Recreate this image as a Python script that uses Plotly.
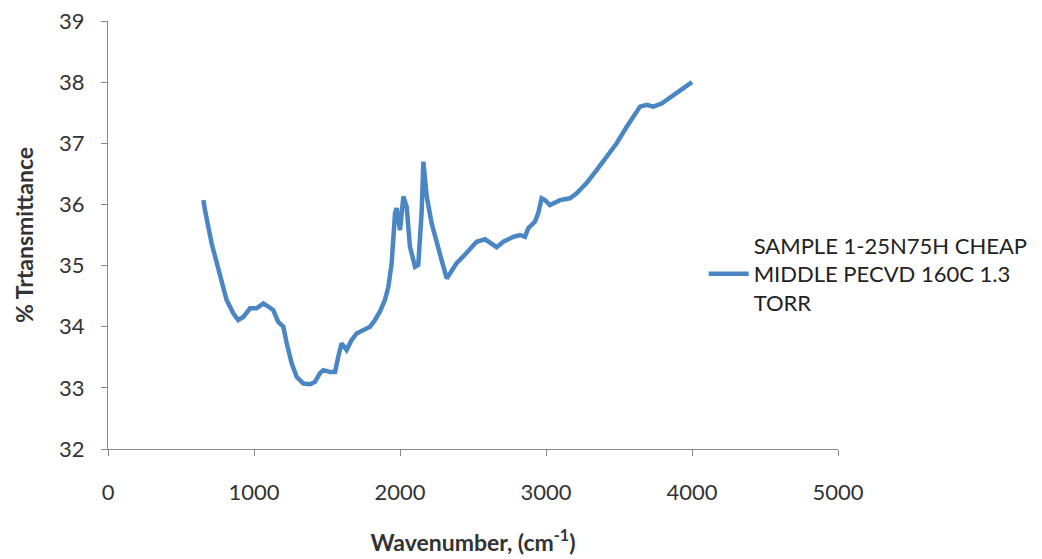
import plotly.graph_objects as go

wavenumber = [653, 664, 710, 744, 778, 812, 858, 892, 927, 973, 1018, 1064, 1098, 1132, 1166, 1201,
              1224, 1258, 1292, 1338, 1384, 1418, 1452, 1475, 1521, 1555, 1577, 1600, 1634, 1668,
              1703, 1748, 1795, 1829, 1863, 1897, 1920, 1943, 1966, 1977, 2000, 2023, 2046, 2068,
              2103, 2125, 2148, 2160, 2183, 2217, 2251, 2285, 2320, 2342, 2388, 2433, 2479, 2525,
              2582, 2628, 2662, 2708, 2776, 2822, 2856, 2879, 2925, 2947, 2970, 2993, 3027, 3096,
              3164, 3210, 3278, 3347, 3415, 3484, 3553, 3598, 3644, 3690, 3735, 3792, 3861, 3918, 4000]
transmittance = [36.07, 35.91, 35.36, 35.04, 34.71, 34.44, 34.22, 34.11, 34.16, 34.30, 34.30, 34.38,
                 34.33, 34.27, 34.08, 34.00, 33.73, 33.40, 33.18, 33.07, 33.06, 33.10, 33.24, 33.29,
                 33.26, 33.26, 33.51, 33.73, 33.62, 33.78, 33.89, 33.95, 34.00, 34.11, 34.25, 34.44,
                 34.65, 35.04, 35.86, 35.94, 35.58, 36.13, 35.96, 35.31, 34.98, 35.01, 35.86, 36.70,
                 36.13, 35.69, 35.42, 35.09, 34.79, 34.87, 35.04, 35.15, 35.28, 35.39, 35.43, 35.36,
                 35.30, 35.39, 35.47, 35.50, 35.47, 35.61, 35.72, 35.86, 36.10, 36.07, 35.99, 36.07,
                 36.10, 36.18, 36.35, 36.56, 36.78, 37.00, 37.27, 37.44, 37.60, 37.63, 37.60, 37.65,
                 37.76, 37.87, 38.00]
series_name = "SAMPLE 1-25N75H CHEAP<br>MIDDLE PECVD 160C 1.3<br>TORR"
x_ticks = [0, 1000, 2000, 3000, 4000, 5000]
y_ticks = [32, 33, 34, 35, 36, 37, 38, 39]

fig = go.Figure()
fig.add_trace(go.Scatter(x=wavenumber, y=transmittance, mode="lines", name=series_name,
                         line=dict(color="#4a86c4", width=4.5)))

font_family = "Lato, Open Sans, sans-serif"
fig.update_layout(
    width=1042, height=559,
    margin=dict(l=100, r=212, t=13, b=118),
    paper_bgcolor="white", plot_bgcolor="white",
    font=dict(family=font_family, color="#333333"),
    showlegend=True,
    legend=dict(x=0.816, y=0.409, xanchor="left", yanchor="middle",
                font=dict(size=22, color="#222222"), bgcolor="rgba(0,0,0,0)",
                itemwidth=40, tracegroupgap=0),
    xaxis=dict(range=[0, 5000], tickvals=x_ticks, ticks="outside", ticklen=6, tickcolor="#888888",
               showline=True, linecolor="#888888", linewidth=1, showgrid=False, zeroline=False,
               automargin=False, ticklabelstandoff=18, ticklabeloverflow="allow",
               tickfont=dict(size=22, color="#333333"),
               title=dict(text="<b>Wavenumber, (cm<sup>-1</sup>)</b>", font=dict(size=23, color="#333333"), standoff=30)),
    yaxis=dict(range=[32, 39], tickvals=y_ticks, ticks="outside", ticklen=6, tickcolor="#888888",
               showline=True, linecolor="#888888", linewidth=1, showgrid=False, zeroline=False,
               automargin=False, ticklabelstandoff=12, ticklabeloverflow="allow",
               tickfont=dict(size=22, color="#333333"),
               title=dict(text="<b>% Trtansmittance</b>", font=dict(size=23, color="#333333"), standoff=19)),
)

fig.write_html("out.html")
